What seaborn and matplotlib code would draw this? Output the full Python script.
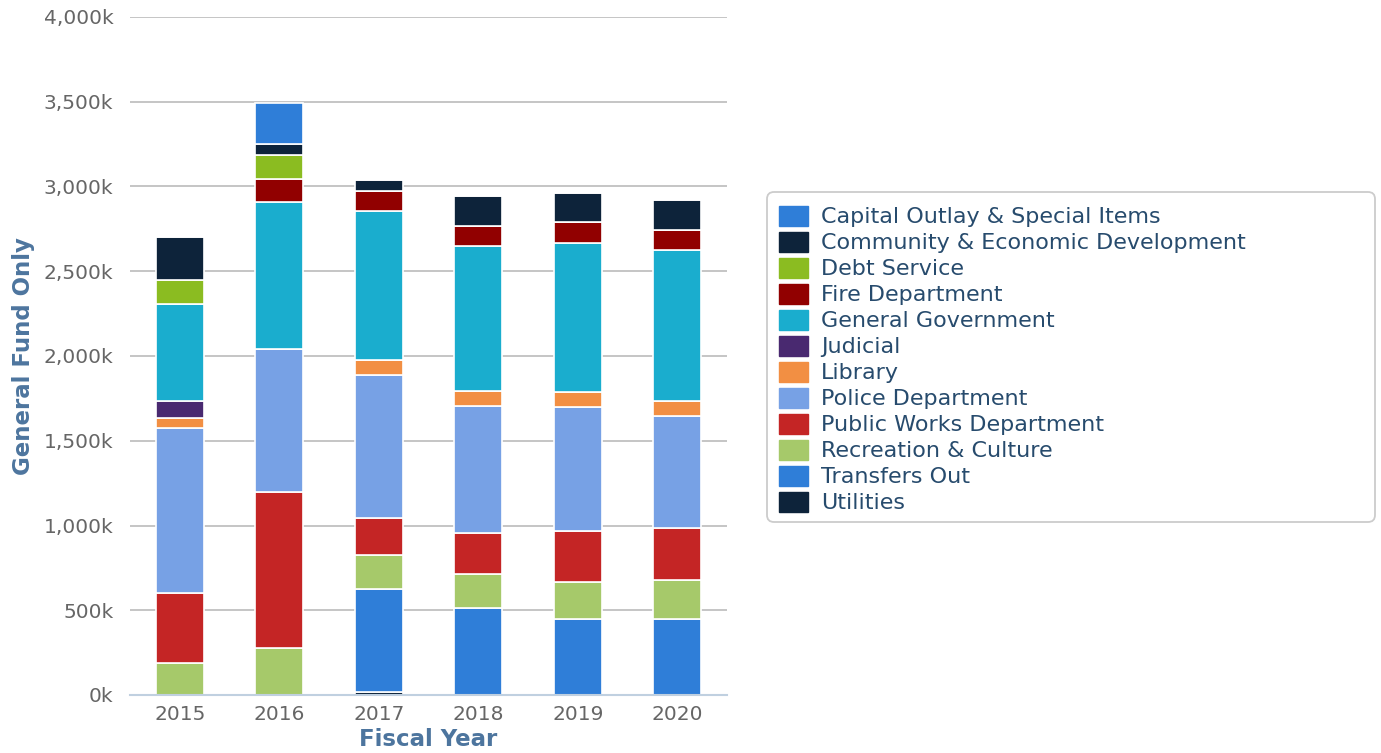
import matplotlib
matplotlib.use("Agg")
import matplotlib.pyplot as plt
import seaborn as sns
import numpy as np
import pandas as pd
from matplotlib.patches import Patch, FancyBboxPatch
from matplotlib.transforms import IdentityTransform
from matplotlib.ticker import FuncFormatter, FixedLocator

years = ["2015", "2016", "2017", "2018", "2019", "2020"]

# values in thousands of dollars
capital_outlay = [0, 240, 0, 0, 0, 0]
community_econ = [252, 67, 63, 175, 174, 177]
debt_service = [141, 142, 0, 0, 0, 0]
fire_department = [0, 132, 121, 120, 121, 119]
general_government = [572, 867, 878, 855, 879, 889]
judicial = [99, 0, 0, 0, 0, 0]
library = [63, 0, 88, 87, 88, 89]
police_department = [970, 845, 846, 751, 735, 659]
public_works = [414, 922, 218, 240, 298, 309]
recreation_culture = [189, 276, 199, 199, 220, 230]
transfers_out = [0, 0, 605, 515, 448, 448]
utilities = [0, 0, 20, 0, 0, 0]

series_names = [
    "Capital Outlay & Special Items",
    "Community & Economic Development",
    "Debt Service",
    "Fire Department",
    "General Government",
    "Judicial",
    "Library",
    "Police Department",
    "Public Works Department",
    "Recreation & Culture",
    "Transfers Out",
    "Utilities",
]
series_values = [
    capital_outlay, community_econ, debt_service, fire_department,
    general_government, judicial, library, police_department,
    public_works, recreation_culture, transfers_out, utilities,
]
colors = ["#2f7ed8", "#0d233a", "#8bbc21", "#910000", "#1aadce", "#492970",
          "#f28f43", "#77a1e5", "#c42525", "#a6c96a", "#2f7ed8", "#0d233a"]

sns.set_theme(style="white")
plt.rcParams["font.family"] = ["DejaVu Sans"]

W, H = 1381, 753
fig = plt.figure(figsize=(W / 100, H / 100), dpi=100)
ax = fig.add_axes([130 / W, 1 - 695 / H, (727 - 130) / W, (695 - 17) / H])

# Highcharts stacking: last series at the bottom
bottoms = np.zeros(len(years))
for name, vals, col in reversed(list(zip(series_names, series_values, colors))):
    df = pd.DataFrame({"year": years, "value": vals})
    sns.barplot(data=df, x="year", y="value", order=years, color=col,
                bottom=bottoms.copy(), width=0.48, edgecolor="white",
                linewidth=1.2, saturation=1, ax=ax, errorbar=None)
    bottoms = bottoms + np.array(vals, dtype=float)

ax.set_ylim(0, 4000)
ax.set_xlim(-0.5, len(years) - 0.5)
ax.yaxis.set_major_locator(FixedLocator(np.arange(0, 4001, 500)))
ax.yaxis.set_major_formatter(FuncFormatter(lambda v, p: f"{int(v):,}k"))
ax.grid(axis="y", color="#c0c0c0", linewidth=1.3)
ax.set_axisbelow(True)
for s in ["top", "right", "left"]:
    ax.spines[s].set_visible(False)
ax.spines["bottom"].set_color("#c0d0e0")
ax.spines["bottom"].set_linewidth(1.5)
ax.spines["bottom"].set_zorder(5)

ax.tick_params(axis="y", length=0, labelsize=14.5, labelcolor="#666666", pad=12)
ax.tick_params(axis="x", which="major", length=0, labelsize=14.5, labelcolor="#666666", pad=7)
ax.set_xticks(np.arange(-0.5, len(years)), minor=True)
ax.tick_params(axis="x", which="minor", length=9, color="#c0d0e0", width=1.5, direction="out")

ax.set_xlabel("Fiscal Year", fontsize=16.5, fontweight="bold", color="#4d759e", labelpad=3)
ax.set_ylabel("General Fund Only", fontsize=16.5, fontweight="bold", color="#4d759e", labelpad=6)

# legend frame (pixel coordinates)
frame = FancyBboxPatch((767, H - 522), 1375 - 767, 522 - 192,
                       boxstyle="round,pad=0,rounding_size=7",
                       transform=IdentityTransform(), facecolor="white",
                       edgecolor="#cccccc", linewidth=1.3, zorder=0)
fig.patches.append(frame)

handles = [Patch(facecolor=c, edgecolor=c, label=n) for n, c in zip(series_names, colors)]
leg = fig.legend(handles=handles, loc="upper left",
                 bbox_to_anchor=(772 / W, 1 - 199 / H),
                 fontsize=16, frameon=False,
                 handlelength=1.3, handleheight=1.0, handletextpad=0.6,
                 labelspacing=0.2, borderpad=0.3, borderaxespad=0)
for t in leg.get_texts():
    t.set_color("#274b6d")

fig.savefig("out.png", dpi=100, facecolor="white")
